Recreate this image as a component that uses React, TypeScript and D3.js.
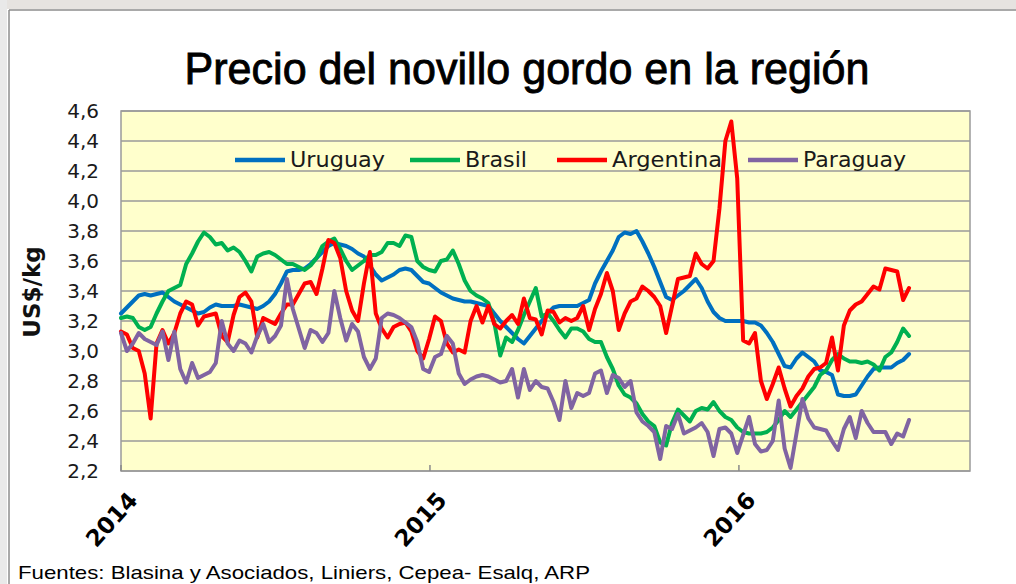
import React from 'react';
import * as d3 from 'd3';

// weekly prices, US$/kg, first week of Jan 2014 onwards
const START = new Date(2014, 0, 1);

const uruguay = [
  3.25, 3.29, 3.33, 3.37, 3.38, 3.37, 3.38, 3.39, 3.36, 3.33,
  3.31, 3.29, 3.27, 3.25, 3.26, 3.29, 3.31, 3.30, 3.30, 3.30,
  3.31, 3.30, 3.29, 3.28, 3.30, 3.33, 3.38, 3.45, 3.53, 3.54,
  3.54, 3.55, 3.58, 3.62, 3.66, 3.70, 3.72, 3.71, 3.70, 3.68,
  3.65, 3.63, 3.57, 3.51, 3.47, 3.49, 3.51, 3.54, 3.55, 3.54,
  3.50, 3.46, 3.45, 3.42, 3.39, 3.37, 3.35, 3.34, 3.33, 3.33,
  3.32, 3.31, 3.30, 3.25, 3.20, 3.16, 3.12, 3.08, 3.05, 3.10,
  3.15, 3.20, 3.25, 3.29, 3.30, 3.30, 3.30, 3.30, 3.32, 3.34,
  3.45, 3.53, 3.60, 3.67, 3.76, 3.79, 3.78, 3.80, 3.73, 3.65,
  3.56, 3.46, 3.36, 3.34, 3.37, 3.40, 3.44, 3.48, 3.42, 3.33,
  3.26, 3.22, 3.20, 3.20, 3.20, 3.20, 3.19, 3.19, 3.17, 3.12,
  3.06, 2.98, 2.90, 2.89, 2.95, 2.99, 2.96, 2.93, 2.87, 2.86,
  2.84, 2.71, 2.70, 2.70, 2.71, 2.77, 2.83, 2.88, 2.89, 2.89,
  2.89, 2.92, 2.94, 2.98,
];

const brasil = [
  3.22, 3.23, 3.22, 3.16, 3.14, 3.16, 3.25, 3.33, 3.40, 3.42,
  3.44, 3.58, 3.65, 3.73, 3.79, 3.76, 3.71, 3.72, 3.67, 3.69,
  3.66, 3.60, 3.53, 3.63, 3.65, 3.66, 3.64, 3.61, 3.58, 3.58,
  3.56, 3.54, 3.57, 3.62, 3.70, 3.73, 3.75, 3.68, 3.60, 3.54,
  3.57, 3.60, 3.64, 3.64, 3.66, 3.72, 3.72, 3.70, 3.77, 3.76,
  3.60, 3.56, 3.54, 3.53, 3.60, 3.61, 3.67, 3.58, 3.47, 3.40,
  3.37, 3.35, 3.32, 3.19, 2.97, 3.09, 3.06, 3.14, 3.24, 3.33,
  3.42, 3.23, 3.25, 3.20, 3.14, 3.09, 3.15, 3.15, 3.13, 3.08,
  3.06, 3.06, 2.96, 2.88, 2.77, 2.71, 2.69, 2.65, 2.58, 2.53,
  2.50, 2.39, 2.37, 2.52, 2.61, 2.57, 2.53, 2.60, 2.62, 2.61,
  2.66, 2.60, 2.56, 2.54, 2.49, 2.46, 2.45, 2.45, 2.45, 2.46,
  2.49, 2.54, 2.60, 2.56, 2.61, 2.66, 2.71, 2.76, 2.84, 2.87,
  2.94, 2.98, 2.95, 2.93, 2.93, 2.92, 2.93, 2.91, 2.87, 2.96,
  2.99, 3.06, 3.15, 3.10,
];

const argentina = [
  3.13, 3.11, 3.02, 3.00, 2.85, 2.55, 3.05, 3.14, 3.05, 3.12,
  3.25, 3.33, 3.31, 3.17, 3.23, 3.24, 3.25, 3.10, 3.06, 3.24,
  3.36, 3.39, 3.33, 3.09, 3.22, 3.20, 3.18, 3.25, 3.31, 3.31,
  3.38, 3.45, 3.46, 3.38, 3.55, 3.74, 3.72, 3.62, 3.40, 3.27,
  3.20, 3.45, 3.66, 3.25, 3.15, 3.09, 3.16, 3.18, 3.19, 3.13,
  3.00, 2.95, 3.08, 3.23, 3.20, 3.05, 2.99, 3.01, 2.99, 3.20,
  3.30, 3.19, 3.30, 3.18, 3.15, 3.20, 3.24, 3.18, 3.35, 3.22,
  3.21, 3.11, 3.27, 3.26, 3.19, 3.22, 3.20, 3.22, 3.30, 3.14,
  3.28, 3.38, 3.52, 3.40, 3.14, 3.25, 3.33, 3.35, 3.43, 3.40,
  3.36, 3.30, 3.12, 3.30, 3.48, 3.49, 3.50, 3.65, 3.58, 3.55,
  3.60, 3.95, 4.40, 4.53, 4.15, 3.07, 3.05, 3.12, 2.80, 2.68,
  2.78, 2.89, 2.75, 2.63, 2.70, 2.75, 2.83, 2.88, 2.89, 2.92,
  3.09, 2.87, 3.17, 3.27, 3.31, 3.33, 3.38, 3.43, 3.41, 3.55,
  3.54, 3.53, 3.34, 3.42,
];

const paraguay = [
  3.12, 3.00, 3.05, 3.12, 3.08, 3.06, 3.04, 3.13, 2.94, 3.13,
  2.88, 2.79, 2.92, 2.82, 2.84, 2.86, 2.92, 3.20, 3.05, 3.00,
  3.07, 3.05, 2.99, 3.10, 3.18, 3.06, 3.10, 3.17, 3.48, 3.28,
  3.15, 3.02, 3.14, 3.12, 3.06, 3.12, 3.40, 3.22, 3.07, 3.18,
  3.13, 2.96, 2.88, 2.95, 3.22, 3.25, 3.24, 3.22, 3.19, 3.16,
  3.06, 2.88, 2.86, 2.96, 2.98, 3.10, 3.05, 2.85, 2.78, 2.81,
  2.83, 2.84, 2.83, 2.81, 2.79, 2.80, 2.88, 2.69, 2.88, 2.74,
  2.80, 2.76, 2.75, 2.66, 2.54, 2.80, 2.62, 2.72, 2.70, 2.72,
  2.85, 2.87, 2.72, 2.84, 2.82, 2.76, 2.80, 2.59, 2.53, 2.50,
  2.46, 2.28, 2.50, 2.48, 2.58, 2.45, 2.47, 2.49, 2.52, 2.46,
  2.30, 2.48, 2.49, 2.45, 2.32, 2.44, 2.56, 2.38, 2.33, 2.34,
  2.40, 2.67, 2.35, 2.22, 2.45, 2.68, 2.55, 2.49, 2.48, 2.47,
  2.40, 2.34, 2.48, 2.56, 2.42, 2.60, 2.52, 2.46, 2.46, 2.46,
  2.38, 2.45, 2.43, 2.54,
];

const seriesNames = ['Uruguay', 'Brasil', 'Argentina', 'Paraguay'];
const seriesColors = ['#0070C0', '#00B050', '#FF0000', '#8064A2'];
const yTicks = [2.2, 2.4, 2.6, 2.8, 3.0, 3.2, 3.4, 3.6, 3.8, 4.0, 4.2, 4.4, 4.6];
const yearTicks = [2014, 2015, 2016];

const W = 1016;
const H = 584;
const plot = { left: 121, right: 970, top: 111, bottom: 471 };
const SANS = "'DejaVu Sans', Verdana, sans-serif";
const NARROW = "'Liberation Sans Narrow', 'Liberation Sans', Arial, sans-serif";

export default function App() {
  const x = d3.scaleTime()
    .domain([new Date(2014, 0, 1), new Date(2016, 8, 30)])
    .range([plot.left, plot.right]);
  const y = d3.scaleLinear().domain([2.2, 4.6]).range([plot.bottom, plot.top]);

  const dates = uruguay.map((_, i) => d3.timeDay.offset(START, i * 7));
  const all = [uruguay, brasil, argentina, paraguay];

  const line = d3.line<number>()
    .x((_, i) => x(dates[i]))
    .y(d => y(d));

  const fmt = (v: number) => d3.format('.1f')(v).replace('.', ',');
  const legendX = [235, 410, 557, 748];
  const legendLen = [95, 62, 110, 103];

  return (
    <svg width={W} height={H} style={{ position: 'absolute', left: 0, top: 0, background: '#fff' }}>
      {/* slide background bits around the chart */}
      <rect x={0} y={0} width={W} height={9} fill="#e6e3e0" />
      <rect x={0} y={0} width={7} height={H} fill="#e9e9e9" />
      <line x1={9} x2={W} y1={10} y2={10} stroke="#8c8c8c" strokeWidth={1.5} />
      <line x1={9} x2={9} y1={10} y2={H} stroke="#8c8c8c" strokeWidth={1.5} />

      <text x={527} y={84} textAnchor="middle" fontFamily={NARROW}
        fontSize={45} textLength={685} lengthAdjust="spacingAndGlyphs" fill="#000" stroke="#000" strokeWidth={0.9}>
        Precio del novillo gordo en la región
      </text>

      <rect x={plot.left} y={plot.top} width={plot.right - plot.left} height={plot.bottom - plot.top}
        fill="#FFFFCC" />
      {yTicks.map(t => (
        <line key={t} x1={plot.left} x2={plot.right} y1={y(t)} y2={y(t)} stroke="#9a9a9a" strokeWidth={1.5} />
      ))}
      <rect x={plot.left} y={plot.top} width={plot.right - plot.left} height={plot.bottom - plot.top}
        fill="none" stroke="#9a9a9a" strokeWidth={1.5} />

      {yTicks.map(t => (
        <text key={t} x={99} y={y(t) + 7} textAnchor="end" fontFamily={SANS}
          fontSize={20} fill="#1a1a1a">{fmt(t)}</text>
      ))}
      <text transform={`translate(40, 292) rotate(-90)`} textAnchor="middle" fontFamily={SANS}
        fontWeight="bold" fontSize={23} fill="#111">US$/kg</text>

      {yearTicks.map(yr => {
        const px = x(new Date(yr, 0, 1));
        return (
          <g key={yr}>
            <line x1={px} x2={px} y1={plot.bottom} y2={plot.bottom - 6} stroke="#8a8a8a" strokeWidth={1.5} />
            <text transform={`translate(${px + 18}, 501) rotate(-48)`} textAnchor="end"
              fontFamily={SANS} fontWeight="bold" fontSize={23} fill="#000">{yr}</text>
          </g>
        );
      })}

      {all.map((s, k) => (
        <path key={k} d={line(s) ?? ''} fill="none" stroke={seriesColors[k]} strokeWidth={4}
          strokeLinejoin="round" strokeLinecap="round" />
      ))}

      {seriesNames.map((n, k) => (
        <g key={n}>
          <line x1={legendX[k]} x2={legendX[k] + 50} y1={160} y2={160} stroke={seriesColors[k]} strokeWidth={4.5} />
          <text x={legendX[k] + 55} y={167} fontFamily={SANS} fontSize={21} textLength={legendLen[k]}
            lengthAdjust="spacingAndGlyphs" fill="#1a1a1a">{n}</text>
        </g>
      ))}

      <text x={18} y={579} fontFamily={NARROW} fontSize={19}
        textLength={572} lengthAdjust="spacingAndGlyphs" fill="#000">
        Fuentes: Blasina y Asociados, Liniers, Cepea- Esalq,  ARP
      </text>
    </svg>
  );
}
